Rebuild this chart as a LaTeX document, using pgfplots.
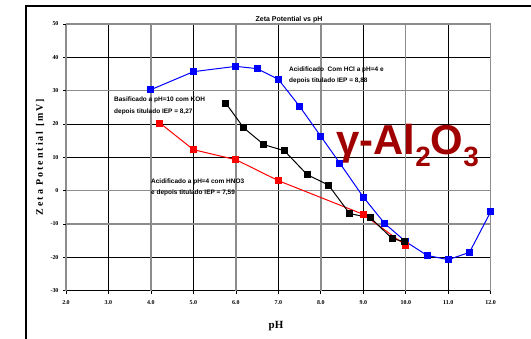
\documentclass[border=0pt]{standalone}
\usepackage{pgfplots}
\pgfplotsset{compat=1.18}
\usepackage{fontspec}
\setmainfont{Liberation Serif}
\setsansfont{Liberation Sans}
\definecolor{alred}{RGB}{160,0,0}
\definecolor{gridgray}{RGB}{140,140,140}
\newcommand{\sub}[1]{\raisebox{-12bp}{\fontsize{28}{28}\selectfont #1}}
\begin{document}
\begin{tikzpicture}
\path[use as bounding box] (0bp,0bp) rectangle (531bp,339bp);
\draw[line width=1.2bp] (26bp,0bp) -- (26bp,333bp) -- (531bp,333bp);
\begin{axis}[at={(66bp,48.3bp)}, anchor=south west, scale only axis,
 width=424.7bp, height=266.7bp,
 xmin=2, xmax=12, ymin=-30, ymax=50,
 clip=false,
 axis line style={draw=none},
 xtick={3,5,7,9,11}, extra x ticks={2,4,6,8,10,12},
 ytick={40,20,10,-20,-30}, extra y ticks={50,30,0,-10},
 grid=major,
 grid style={black, line width=0.8bp},
 extra x tick style={grid=major, grid style={gridgray, line width=1.4bp}},
 extra y tick style={grid=major, grid style={gridgray, line width=1.4bp}},
 xtick pos=bottom, ytick pos=left,
 tick align=outside, major tick length=3bp,
 tick style={black, line width=0.7bp},
 /pgf/number format/assume math mode=true,
 xticklabel style={/pgf/number format/fixed, /pgf/number format/fixed zerofill, /pgf/number format/precision=1},
 ticklabel style={font=\rmfamily\bfseries\fontsize{6}{7}\selectfont},
 xticklabel style={yshift=-3bp},
 yticklabel style={xshift=-1bp},
 every axis plot/.append style={line width=1bp, mark=square*, mark size=3bp},
]
\addplot[blue, mark options={fill=blue}] coordinates {
(4.0,30.3)(5.0,35.7)(6.0,37.3)(6.5,36.6)(7.0,33.4)(7.5,25.3)(8.0,16.3)(8.45,8.2)
(9.0,-1.9)(9.5,-9.8)(10.0,-15.3)(10.5,-19.4)(11.0,-20.7)(11.5,-18.5)(12.0,-6.3)};
\addplot[red, mark options={fill=red}] coordinates {
(4.21,20.3)(5.0,12.3)(6.0,9.3)(7.0,3.0)(9.0,-7.1)(10.0,-16.4)};
\addplot[black, mark options={fill=black}] coordinates {
(5.76,26.3)(6.18,18.9)(6.66,13.8)(7.14,12.0)(7.68,4.8)(8.18,1.7)(8.68,-6.9)
(9.17,-8.1)(9.68,-14.4)(9.98,-15.3)};
\end{axis}
\node[font=\sffamily\bfseries\fontsize{7}{8}\selectfont] at (289bp,319bp) {Zeta Potential vs pH};
\node[anchor=north west, inner sep=0pt, align=left, font=\sffamily\bfseries\fontsize{6.5}{11}\selectfont] at (289bp,272.5bp) {Acidificado\ \ Com HCl a pH=4 e\\depois titulado IEP = 8,88};
\node[anchor=north west, inner sep=0pt, align=left, font=\sffamily\bfseries\fontsize{6.5}{12}\selectfont] at (114bp,242.5bp) {Basificado a pH=10 com KOH\\depois titulado IEP = 8,27};
\node[anchor=north west, inner sep=0pt, align=left, font=\sffamily\bfseries\fontsize{6.5}{11}\selectfont] at (151bp,160bp) {Acidificado a pH=4 com HNO3\\e depois titulado IEP = 7,59};
\node[anchor=base west, inner sep=0pt, text=alred, font=\sffamily\bfseries\fontsize{42}{42}\selectfont] at (336bp,184bp) {γ-Al\sub{2}O\sub{3}};
\node[rotate=90, font=\rmfamily\bfseries\fontsize{10}{11}\selectfont\addfontfeatures{LetterSpace=20}] at (40bp,182bp) {Zeta Potential [mV]};
\node[font=\rmfamily\bfseries\fontsize{11}{12}\selectfont] at (276bp,13bp) {pH};
\end{tikzpicture}
\end{document}
